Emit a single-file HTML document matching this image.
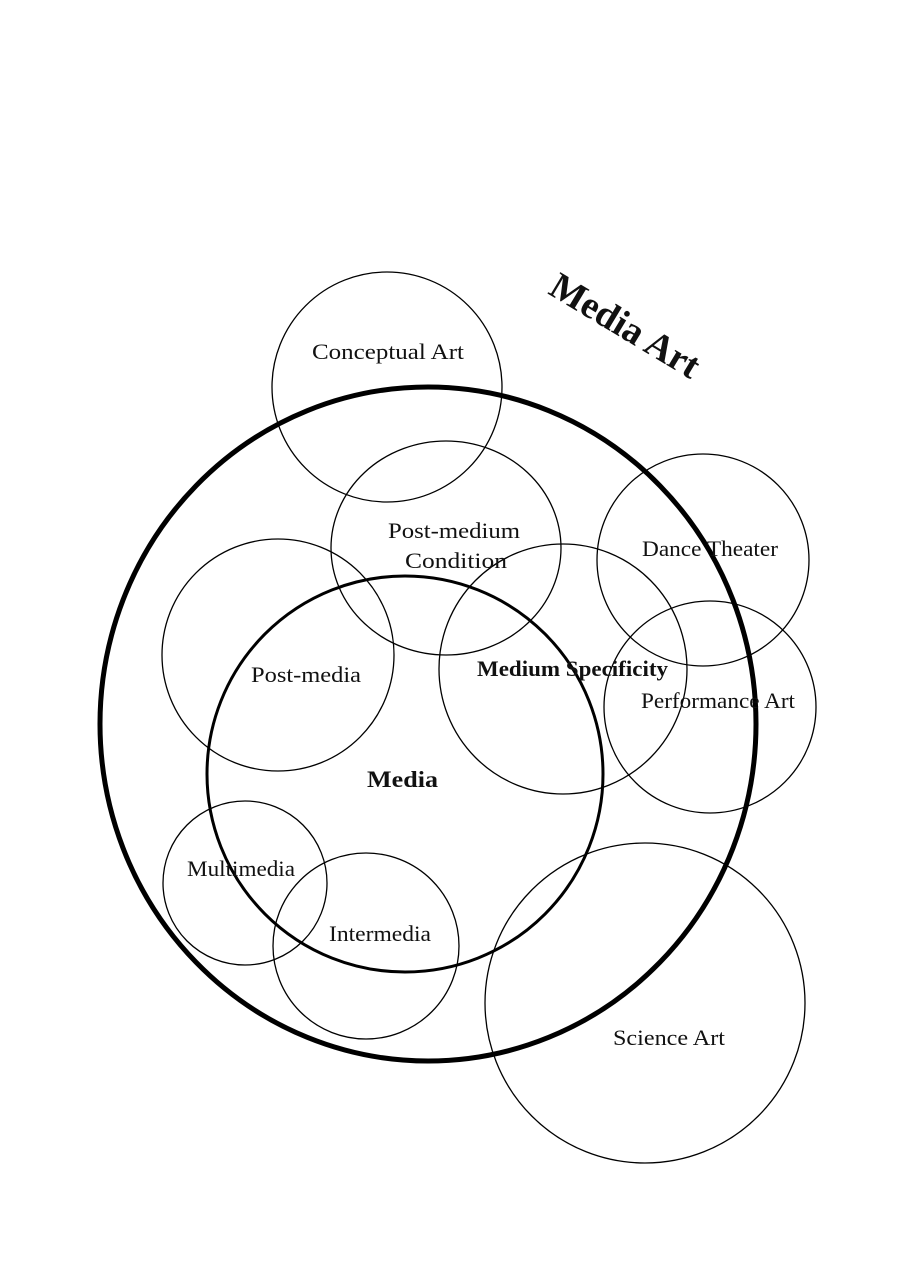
<!DOCTYPE html>
<html><head><meta charset="utf-8"><style>
html,body{margin:0;padding:0;background:#fff}
svg{display:block}
text{font-family:"Liberation Serif",serif;fill:#111}
</style></head><body>
<svg width="905" height="1280" viewBox="0 0 905 1280" xmlns="http://www.w3.org/2000/svg">
<g fill="none" stroke="#000">
<ellipse cx="428" cy="724" rx="328" ry="337" stroke-width="5"/>
<ellipse cx="405" cy="774" rx="198" ry="198" stroke-width="3"/>
<circle cx="387" cy="387" r="115" stroke-width="1.3"/>
<ellipse cx="446" cy="548" rx="115" ry="107" stroke-width="1.3"/>
<circle cx="278" cy="655" r="116" stroke-width="1.3"/>
<ellipse cx="563" cy="669" rx="124" ry="125" stroke-width="1.3"/>
<circle cx="703" cy="560" r="106" stroke-width="1.3"/>
<circle cx="710" cy="707" r="106" stroke-width="1.3"/>
<circle cx="245" cy="883" r="82" stroke-width="1.3"/>
<circle cx="366" cy="946" r="93" stroke-width="1.3"/>
<circle cx="645" cy="1003" r="160" stroke-width="1.3"/>
</g>
<g font-size="22" lengthAdjust="spacingAndGlyphs">
<text x="312" y="359" textLength="152" lengthAdjust="spacingAndGlyphs">Conceptual Art</text>
<text x="388" y="538" textLength="132" lengthAdjust="spacingAndGlyphs">Post-medium</text>
<text x="405" y="568" textLength="102" lengthAdjust="spacingAndGlyphs">Condition</text>
<text x="642" y="556" textLength="136" lengthAdjust="spacingAndGlyphs">Dance Theater</text>
<text x="477" y="676" font-weight="bold" textLength="191" lengthAdjust="spacingAndGlyphs">Medium Specificity</text>
<text x="251" y="682" textLength="110" lengthAdjust="spacingAndGlyphs">Post-media</text>
<text x="641" y="708" textLength="154" lengthAdjust="spacingAndGlyphs">Performance Art</text>
<text x="367" y="787" font-weight="bold" font-size="23" textLength="71" lengthAdjust="spacingAndGlyphs">Media</text>
<text x="187" y="876" textLength="108" lengthAdjust="spacingAndGlyphs">Multimedia</text>
<text x="329" y="941" textLength="102" lengthAdjust="spacingAndGlyphs">Intermedia</text>
<text x="613" y="1045" textLength="112" lengthAdjust="spacingAndGlyphs">Science Art</text>
</g>
<text x="625" y="338" font-size="38" font-weight="bold" text-anchor="middle" transform="rotate(31 625 326)">Media Art</text>
</svg>
</body></html>
